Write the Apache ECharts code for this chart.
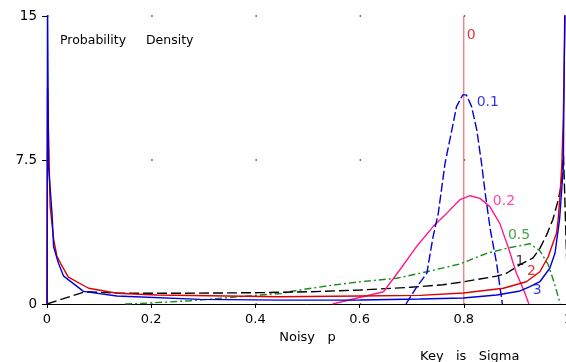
<!DOCTYPE html>
<html>
<head>
<meta charset="utf-8">
<script src="https://cdn.jsdelivr.net/npm/echarts@6/dist/echarts.min.js"></script>
<style>
  html, body { margin: 0; padding: 0; background: #fff; }
  #chart { width: 566px; height: 362px; }
</style>
</head>
<body>
<div id="chart"></div>
<script>
// 各条曲线的点 [noisy p, density]，从图上读出来的
var sigma0 = [[0.8, 0], [0.8, 15]];
var sigma01 = [[0.689, 0], [0.71, 0.9], [0.729, 1.6], [0.741, 3.5], [0.751, 4.72], [0.764, 7.33], [0.777, 9.06],
  [0.786, 10.28], [0.798, 10.89], [0.805, 10.89], [0.815, 10.28], [0.825, 9.06], [0.834, 7.33], [0.842, 5.59],
  [0.851, 3.85], [0.863, 2.12], [0.874, 0]];
var sigma02 = [[0.548, 0], [0.646, 0.64], [0.677, 1.77], [0.709, 2.98], [0.741, 4.03], [0.767, 4.72], [0.792, 5.42],
  [0.812, 5.64], [0.831, 5.5], [0.85, 5.07], [0.869, 4.2], [0.885, 2.98], [0.901, 1.6], [0.915, 0.73], [0.925, 0]];
var sigma05 = [[0.15, 0], [0.173, 0.02], [0.275, 0.17], [0.4, 0.45], [0.45, 0.55], [0.473, 0.68], [0.537, 0.94],
  [0.601, 1.16], [0.671, 1.34], [0.729, 1.68], [0.792, 2.08], [0.844, 2.64], [0.882, 2.9], [0.927, 3.14],
  [0.946, 2.77], [0.962, 2.05], [0.973, 1.15], [0.983, 0.2], [0.985, 0]];
var sigma1 = [[0, 0], [0.073, 0.64], [0.14, 0.56], [0.25, 0.56], [0.409, 0.59], [0.505, 0.64], [0.601, 0.73],
  [0.697, 0.87], [0.76, 1.0], [0.8, 1.16], [0.863, 1.45], [0.882, 1.6], [0.908, 2.05], [0.933, 2.4], [0.946, 2.9],
  [0.959, 3.6], [0.971, 4.4], [0.981, 5.4], [0.988, 6.3], [0.991, 8.1], [1, 0]];
var sigma2 = [[0, 0], [0.001, 11.25], [0.006, 5.07], [0.013, 3.33], [0.019, 2.5], [0.026, 2.12], [0.041, 1.4],
  [0.08, 0.82], [0.134, 0.56], [0.211, 0.47], [0.447, 0.38], [0.601, 0.42], [0.716, 0.45], [0.799, 0.57],
  [0.876, 0.82], [0.92, 1.16], [0.946, 1.68], [0.962, 2.46], [0.971, 3.16], [0.978, 3.68], [0.981, 4.37],
  [0.984, 5.42], [0.988, 7.15], [0.991, 9.76], [0.995, 16]];
var sigma3 = [[0, 0], [0.001, 16], [0.003, 7.15], [0.0096, 4.72], [0.0127, 2.98], [0.022, 2.12], [0.032, 1.45],
  [0.07, 0.66], [0.134, 0.42], [0.294, 0.24], [0.447, 0.2], [0.601, 0.21], [0.716, 0.26], [0.799, 0.31],
  [0.863, 0.47], [0.908, 0.68], [0.927, 0.9], [0.946, 1.16], [0.965, 1.86], [0.975, 2.64], [0.984, 4.45],
  [0.991, 7.15], [0.994, 16]];

// 曲线旁边的 sigma 标注
var keyNames = ['0', '0.1', '0.2', '0.5', '1', '2', '3'];
var keyX = [0.814, 0.846, 0.877, 0.906, 0.908, 0.93, 0.941];
var keyY = [14.0, 10.5, 5.36, 3.6, 2.2, 1.68, 0.73];
var keyColors = ['#e00000', '#0000dd', '#ff1a8c', '#1a8a1a', '#000000', '#e00000', '#0000dd'];

var xTicks = [0, 0.2, 0.4, 0.6, 0.8, 1];
var yTicks = [0, 7.5, 15];

var font = 'DejaVu Sans';
var chart = echarts.init(document.getElementById('chart'));

function line(data, color, type, width) {
  return {
    type: 'line', data: data, symbol: 'none', animation: false, clip: true,
    lineStyle: { color: color, width: width || 1.4, type: type }
  };
}

var keyData = [];
for (var i = 0; i < keyNames.length; i++) {
  keyData.push({
    value: [keyX[i], keyY[i]], name: keyNames[i],
    label: { color: keyColors[i] }
  });
}

var option = {
  backgroundColor: '#fff',
  animation: false,
  grid: { left: 47, top: 16, width: 521, height: 288, outerBoundsMode: 'none', containLabel: false },
  xAxis: {
    type: 'value', min: xTicks[0], max: xTicks[xTicks.length - 1], interval: 0.2,
    name: 'Noisy   p', nameLocation: 'middle', nameGap: 27,
    nameTextStyle: { color: '#000', fontFamily: font, fontSize: 13 },
    axisLine: { show: true, lineStyle: { color: '#000', width: 1 } },
    axisTick: { show: true, length: 4, lineStyle: { color: '#000' } },
    axisLabel: { color: '#000', fontFamily: font, fontSize: 13, margin: 9 },
    splitLine: { show: false }
  },
  yAxis: {
    type: 'value', min: yTicks[0], max: yTicks[yTicks.length - 1], interval: 7.5,
    axisLine: { show: true, lineStyle: { color: '#000', width: 1 } },
    axisTick: { show: true, length: 5, lineStyle: { color: '#000' } },
    axisLabel: { color: '#000', fontFamily: font, fontSize: 13.5, margin: 10 },
    // 网格只是交点上的小点
    splitLine: { show: true, lineStyle: { color: '#444', width: 1.5, type: [1.5, 102.7] } }
  },
  graphic: [
    { type: 'text', left: 60, top: 34, style: { text: 'Probability     Density', fill: '#000', font: '12.5px "DejaVu Sans"' } },
    { type: 'text', left: 420, top: 350, style: { text: 'Key   is   Sigma', fill: '#000', font: '13px "DejaVu Sans"' } }
  ],
  series: [
    line(sigma0, '#e05555', 'solid', 1),
    line(sigma05, '#1a8a1a', [7, 3, 2, 3]),
    line(sigma1, '#000000', [10, 4]),
    line(sigma02, '#ff1a8c', 'solid'),
    line(sigma01, '#0000dd', [9, 3]),
    line(sigma2, '#e00000', 'solid'),
    line(sigma3, '#0000dd', 'solid'),
    {
      type: 'scatter', data: keyData, symbolSize: 1, itemStyle: { color: 'rgba(0,0,0,0)' },
      label: { show: true, position: 'inside', formatter: '{b}', fontFamily: font, fontSize: 14 },
      silent: true
    }
  ]
};
option && chart.setOption(option);
</script>
</body>
</html>
